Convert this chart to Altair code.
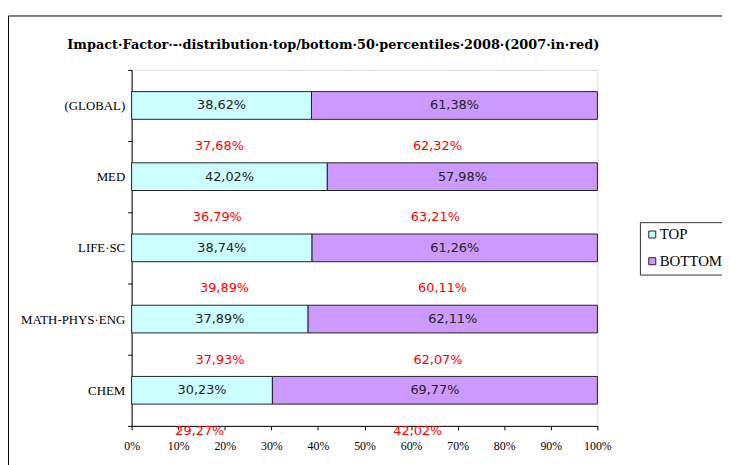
import altair as alt
import pandas as pd

categories = ["(GLOBAL)", "MED", "LIFE·SC", "MATH-PHYS·ENG", "CHEM"]
series = ["TOP", "BOTTOM"]
top_2008 = [38.62, 42.02, 38.74, 37.89, 30.23]
bottom_2008 = [61.38, 57.98, 61.26, 62.11, 69.77]
top_2007 = [37.68, 36.79, 39.89, 37.93, 29.27]
bottom_2007 = [62.32, 63.21, 60.11, 62.07, 42.02]
colors = ["#CCFFFF", "#CC99FF"]
x_ticks = [0, 10, 20, 30, 40, 50, 60, 70, 80, 90, 100]
title_text = "Impact·Factor·-·distribution·top/bottom·50·percentiles·2008·(2007·in·red)"


def fmt(v):
    return f"{v:.2f}".replace(".", ",") + "%"


rows = []
for c, t, b in zip(categories, top_2008, bottom_2008):
    rows.append({"cat": c, "series": "TOP", "start": 0, "end": t, "mid": t / 2, "label": fmt(t)})
    rows.append({"cat": c, "series": "BOTTOM", "start": t, "end": t + b, "mid": t + b / 2, "label": fmt(b)})
bars_df = pd.DataFrame(rows)

red_top = pd.DataFrame({"cat": categories, "x": [t / 2 for t in top_2007],
                        "label": [fmt(t) for t in top_2007]})
red_bot = pd.DataFrame({"cat": categories, "x": [(t + 100) / 2 for t in top_2007],
                        "label": [fmt(b) for b in bottom_2007]})

yscale = alt.Scale(domain=categories, paddingInner=0, paddingOuter=0)
xscale = alt.Scale(domain=[0, 100], nice=False)

y_enc = alt.Y("cat:N", sort=categories, scale=yscale, title=None,
              axis=alt.Axis(tickBand="extent", tickSize=4, labelPadding=3,
                            labelFont="Liberation Serif", labelFontSize=13,
                            labelColor="#000", domainColor="#000", tickColor="#000"))

bars = alt.Chart(bars_df).mark_bar(size=28, stroke="#222", strokeWidth=1).encode(
    y=y_enc,
    x=alt.X("start:Q", scale=xscale, title=None,
            axis=alt.Axis(values=x_ticks, labelExpr="datum.value + '%'", tickSize=4,
                          labelFont="Liberation Serif", labelFontSize=12, labelColor="#000",
                          labelFlush=False, labelOverlap=False,
                          domainColor="#000", tickColor="#000", grid=False, labelPadding=11)),
    x2="end:Q",
    color=alt.Color("series:N", scale=alt.Scale(domain=series, range=colors),
                    legend=alt.Legend(title=None, orient="none", legendX=514, legendY=154,
                                      strokeColor="#333", padding=5, symbolType="square",
                                      symbolSize=50, symbolStrokeColor="#222",
                                      symbolStrokeWidth=1, labelFont="Liberation Serif",
                                      labelFontSize=15, labelColor="#000", rowPadding=11,
                                      symbolOffset=0, labelOffset=0)),
)

bar_text = alt.Chart(bars_df).mark_text(font="DejaVu Sans", fontSize=13, color="#222").encode(
    y=alt.Y("cat:N", sort=categories, scale=yscale),
    x=alt.X("mid:Q", scale=xscale),
    text="label:N",
)

red_t = alt.Chart(red_top).mark_text(font="DejaVu Sans", fontSize=13, color="#ff0000", dy=41).encode(
    y=alt.Y("cat:N", sort=categories, scale=yscale),
    x=alt.X("x:Q", scale=xscale),
    text="label:N",
)
red_b = alt.Chart(red_bot).mark_text(font="DejaVu Sans", fontSize=13, color="#ff0000", dy=41, dx=-15).encode(
    y=alt.Y("cat:N", sort=categories, scale=yscale),
    x=alt.X("x:Q", scale=xscale),
    text="label:N",
)

frame = alt.Chart(pd.DataFrame({"a": [0]})).mark_rect(fill="transparent", stroke="#000", strokeWidth=1).encode(
    x=alt.value(-124.5), x2=alt.value(700), y=alt.value(-54.5), y2=alt.value(500)
)

chart = alt.layer(frame, bars, bar_text, red_t, red_b).properties(
    width=471, height=360,
    autosize=alt.AutoSizeParams(type="none"),
    padding={"left": 125, "top": 60, "right": 126, "bottom": 37},
    title=alt.TitleParams(title_text, font="DejaVu Serif", fontSize=13, fontWeight="bold",
                          anchor="start", frame="group", dx=-65, offset=-37, color="#000"),
).configure_view(stroke="#000", strokeWidth=1).configure(background="white")

chart.save("out.html", embed_options={"renderer": "svg", "actions": False})
